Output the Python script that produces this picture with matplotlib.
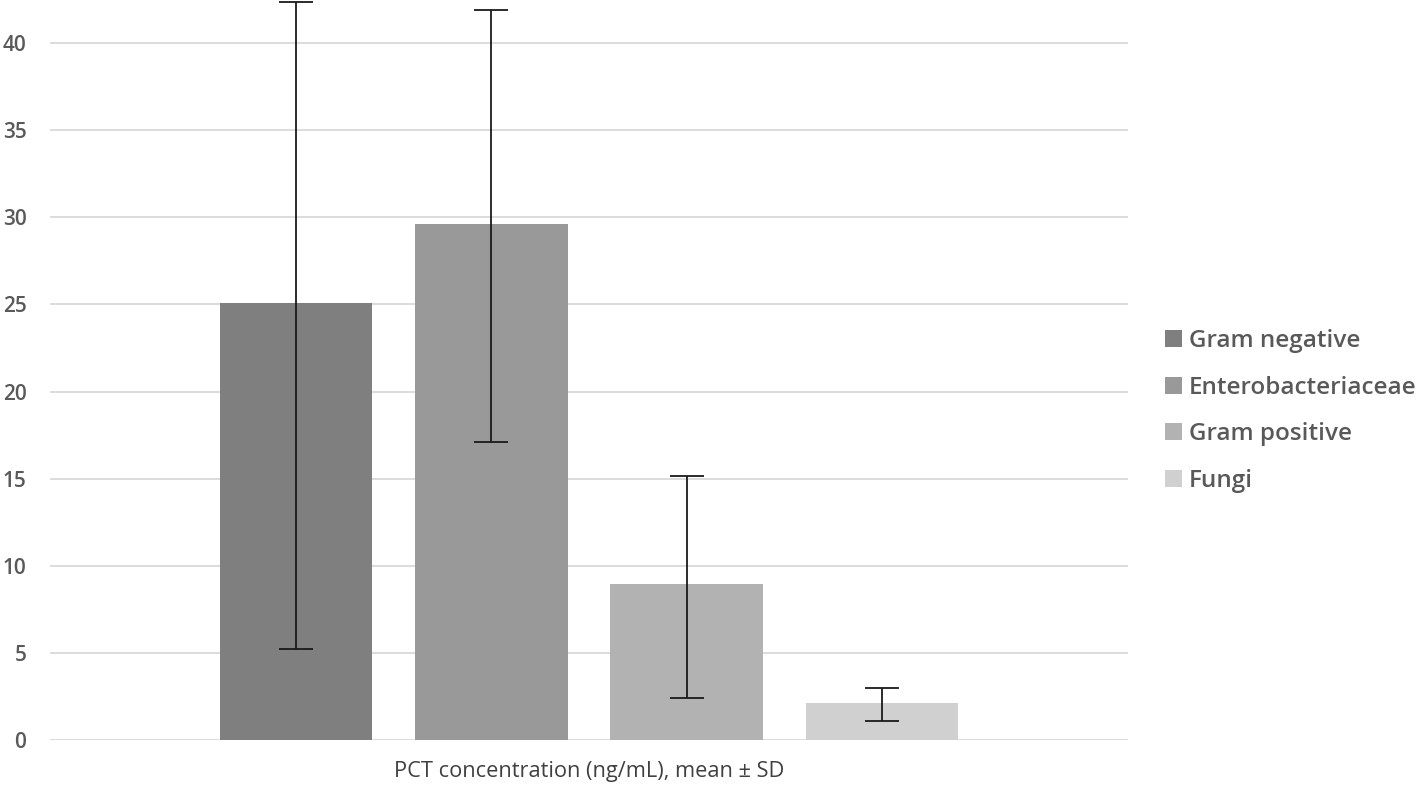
import matplotlib.pyplot as plt
from matplotlib.patches import Patch
import numpy as np

plt.rcParams['font.family'] = ['Open Sans', 'DejaVu Sans']
plt.rcParams['font.weight'] = 'semibold'

categories = ['Gram negative', 'Enterobacteriaceae', 'Gram positive', 'Fungi']
means = [25.1, 29.6, 8.95, 2.14]
err_low = [5.2, 17.1, 2.41, 1.09]
err_high = [42.37, 41.9, 15.15, 3.0]
colors = ['#7f7f7f', '#999999', '#b2b2b2', '#d0d0d0']
yticks = [0, 5, 10, 15, 20, 25, 30, 35, 40]

fig = plt.figure(figsize=(14.18, 7.87), dpi=100)
ax = fig.add_axes([50 / 1418, 47 / 787, 1078 / 1418, 740 / 787])

x = np.arange(len(categories))
means_a = np.array(means)
yerr = [means_a - np.array(err_low), np.array(err_high) - means_a]

ax.bar(x, means, width=0.78, color=colors, zorder=2)
ax.errorbar(x, means, yerr=yerr, fmt='none', ecolor='#1a1a1a',
            elinewidth=1.3, capsize=12.5, capthick=1.3, zorder=3, clip_on=False)

ax.set_xlim(-1.26, 4.26)
ax.set_ylim(0, 42.47)
ax.set_yticks(yticks)
ax.set_xticks([])
ax.yaxis.grid(True, color='#d9d9d9', linewidth=1.3, zorder=0)
ax.set_axisbelow(True)
for s in ['top', 'right', 'left', 'bottom']:
    ax.spines[s].set_visible(False)
ax.tick_params(axis='y', length=0, pad=17, labelsize=15, labelcolor='#595959')
ax.set_xlabel('PCT concentration (ng/mL), mean ± SD', fontsize=15.7,
              color='#404040', labelpad=15)

handles = [Patch(facecolor=c, label=l) for c, l in zip(colors, categories)]
fig.legend(handles=handles, loc='center left',
           bbox_to_anchor=(1143 / 1418, 1 - 411 / 787), frameon=False,
           fontsize=17.5, labelcolor='#595959', handlelength=0.7,
           handleheight=0.7, handletextpad=0.3, labelspacing=0.92)

fig.savefig('out.png', dpi=100)
